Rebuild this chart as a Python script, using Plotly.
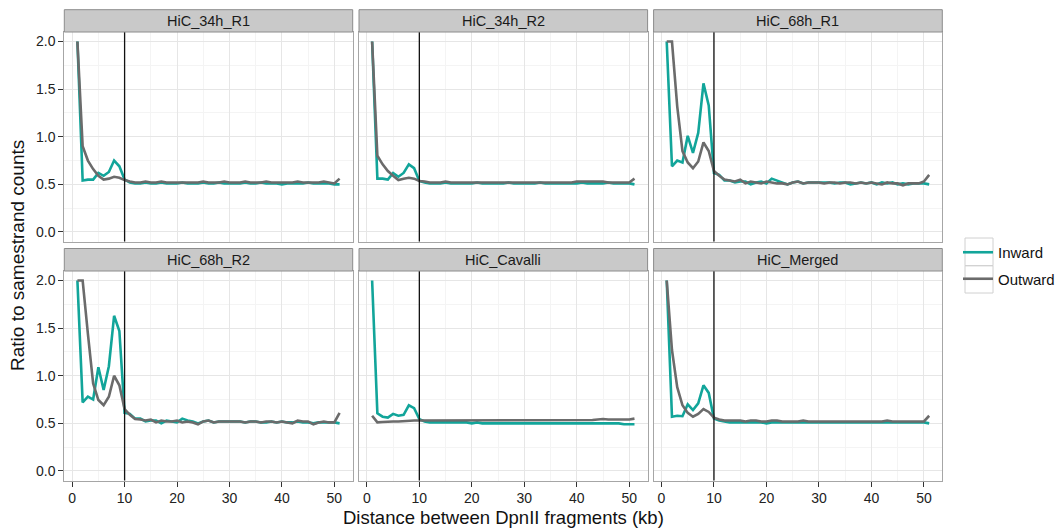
import plotly.graph_objects as go

W, H = 1056, 531

distance_kb = list(range(1, 52))
panels = ["HiC_34h_R1", "HiC_34h_R2", "HiC_68h_R1", "HiC_68h_R2", "HiC_Cavalli", "HiC_Merged"]

inward_34h_R1 = [
    2.00, 0.54, 0.55, 0.55, 0.62, 0.59, 0.63, 0.75, 0.69, 0.55,
    0.52, 0.51, 0.51, 0.52, 0.51, 0.51, 0.52, 0.51, 0.51, 0.51,
    0.52, 0.51, 0.51, 0.51, 0.52, 0.51, 0.51, 0.52, 0.51, 0.51,
    0.51, 0.51, 0.52, 0.51, 0.51, 0.52, 0.51, 0.51, 0.51, 0.50,
    0.51, 0.51, 0.51, 0.51, 0.52, 0.51, 0.51, 0.51, 0.51, 0.50,
    0.50]
outward_34h_R1 = [
    2.00, 0.90, 0.75, 0.66, 0.59, 0.55, 0.56, 0.58, 0.57, 0.545,
    0.53, 0.52, 0.52, 0.53, 0.52, 0.52, 0.53, 0.52, 0.52, 0.52,
    0.52, 0.52, 0.52, 0.52, 0.53, 0.52, 0.52, 0.52, 0.53, 0.52,
    0.52, 0.52, 0.53, 0.52, 0.52, 0.52, 0.53, 0.52, 0.52, 0.52,
    0.52, 0.52, 0.53, 0.52, 0.52, 0.52, 0.52, 0.53, 0.52, 0.51,
    0.56]

inward_34h_R2 = [
    2.00, 0.56, 0.56, 0.55, 0.62, 0.58, 0.62, 0.71, 0.67, 0.535,
    0.52, 0.51, 0.51, 0.51, 0.52, 0.51, 0.51, 0.51, 0.51, 0.51,
    0.52, 0.51, 0.51, 0.51, 0.51, 0.51, 0.52, 0.51, 0.51, 0.51,
    0.51, 0.51, 0.52, 0.51, 0.51, 0.51, 0.51, 0.51, 0.51, 0.51,
    0.52, 0.51, 0.51, 0.51, 0.51, 0.52, 0.51, 0.51, 0.51, 0.51,
    0.50]
outward_34h_R2 = [
    2.00, 0.80, 0.71, 0.64, 0.59, 0.545, 0.56, 0.57, 0.56, 0.535,
    0.53, 0.52, 0.52, 0.52, 0.53, 0.52, 0.52, 0.52, 0.52, 0.52,
    0.52, 0.52, 0.52, 0.52, 0.52, 0.52, 0.52, 0.52, 0.52, 0.52,
    0.52, 0.52, 0.52, 0.52, 0.52, 0.52, 0.52, 0.52, 0.52, 0.53,
    0.53, 0.53, 0.53, 0.53, 0.53, 0.52, 0.52, 0.52, 0.52, 0.52,
    0.56]

inward_68h_R1 = [
    2.00, 0.69, 0.75, 0.73, 1.01, 0.83, 1.04, 1.56, 1.33, 0.62,
    0.60, 0.54, 0.54, 0.52, 0.53, 0.53, 0.50, 0.52, 0.53, 0.51,
    0.56, 0.54, 0.52, 0.50, 0.52, 0.53, 0.51, 0.52, 0.52, 0.52,
    0.52, 0.52, 0.51, 0.52, 0.52, 0.50, 0.51, 0.52, 0.51, 0.52,
    0.50, 0.52, 0.51, 0.52, 0.50, 0.51, 0.50, 0.51, 0.51, 0.51,
    0.50]
outward_68h_R1 = [
    2.00, 2.00, 1.32, 0.85, 0.73, 0.67, 0.74, 0.94, 0.85, 0.64,
    0.59, 0.55, 0.54, 0.53, 0.55, 0.51, 0.53, 0.52, 0.51, 0.53,
    0.52, 0.51, 0.51, 0.50, 0.52, 0.53, 0.51, 0.52, 0.52, 0.52,
    0.51, 0.52, 0.52, 0.51, 0.52, 0.52, 0.51, 0.52, 0.51, 0.52,
    0.51, 0.50, 0.52, 0.51, 0.51, 0.49, 0.51, 0.51, 0.51, 0.53,
    0.60]

inward_68h_R2 = [
    2.00, 0.72, 0.78, 0.75, 1.09, 0.85, 1.10, 1.63, 1.47, 0.61,
    0.60, 0.55, 0.55, 0.52, 0.53, 0.53, 0.50, 0.53, 0.52, 0.51,
    0.55, 0.53, 0.52, 0.50, 0.52, 0.53, 0.51, 0.52, 0.52, 0.52,
    0.52, 0.52, 0.51, 0.52, 0.52, 0.51, 0.51, 0.52, 0.51, 0.52,
    0.51, 0.51, 0.52, 0.51, 0.51, 0.50, 0.51, 0.51, 0.51, 0.51,
    0.50]
outward_68h_R2 = [
    2.00, 2.00, 1.44, 0.92, 0.745, 0.69, 0.78, 1.00, 0.90, 0.65,
    0.59, 0.545, 0.54, 0.53, 0.54, 0.51, 0.53, 0.52, 0.52, 0.53,
    0.51, 0.52, 0.51, 0.49, 0.52, 0.53, 0.51, 0.52, 0.52, 0.52,
    0.52, 0.52, 0.51, 0.52, 0.52, 0.51, 0.52, 0.52, 0.51, 0.52,
    0.51, 0.50, 0.53, 0.52, 0.52, 0.49, 0.51, 0.52, 0.51, 0.51,
    0.61]

inward_Cavalli = [
    2.00, 0.605, 0.57, 0.56, 0.60, 0.58, 0.59, 0.69, 0.66, 0.545,
    0.52, 0.51, 0.51, 0.51, 0.51, 0.51, 0.51, 0.51, 0.51, 0.50,
    0.51, 0.50, 0.50, 0.50, 0.50, 0.50, 0.50, 0.50, 0.50, 0.50,
    0.50, 0.50, 0.50, 0.50, 0.50, 0.50, 0.50, 0.50, 0.50, 0.50,
    0.50, 0.50, 0.50, 0.50, 0.50, 0.50, 0.50, 0.50, 0.49, 0.49,
    0.49]
outward_Cavalli = [
    0.58, 0.51, 0.515, 0.52, 0.52, 0.52, 0.525, 0.53, 0.53, 0.53,
    0.53, 0.53, 0.53, 0.535, 0.53, 0.53, 0.535, 0.53, 0.53, 0.53,
    0.535, 0.53, 0.535, 0.53, 0.53, 0.535, 0.53, 0.53, 0.535, 0.53,
    0.53, 0.53, 0.535, 0.53, 0.535, 0.53, 0.53, 0.535, 0.53, 0.53,
    0.535, 0.53, 0.535, 0.54, 0.545, 0.54, 0.54, 0.54, 0.535, 0.54,
    0.55]

inward_Merged = [
    2.00, 0.57, 0.58, 0.575, 0.70, 0.64, 0.71, 0.90, 0.82, 0.55,
    0.53, 0.52, 0.51, 0.51, 0.51, 0.51, 0.51, 0.51, 0.51, 0.50,
    0.51, 0.51, 0.51, 0.51, 0.51, 0.51, 0.51, 0.51, 0.51, 0.51,
    0.51, 0.51, 0.51, 0.51, 0.51, 0.51, 0.51, 0.51, 0.51, 0.51,
    0.51, 0.51, 0.51, 0.51, 0.51, 0.51, 0.51, 0.51, 0.51, 0.51,
    0.50]
outward_Merged = [
    2.00, 1.27, 0.88, 0.69, 0.61, 0.57, 0.60, 0.65, 0.62, 0.56,
    0.54, 0.53, 0.53, 0.53, 0.53, 0.52, 0.53, 0.53, 0.52, 0.52,
    0.53, 0.53, 0.52, 0.52, 0.52, 0.52, 0.53, 0.52, 0.52, 0.52,
    0.52, 0.52, 0.52, 0.52, 0.52, 0.52, 0.52, 0.52, 0.52, 0.52,
    0.52, 0.52, 0.53, 0.52, 0.52, 0.52, 0.52, 0.52, 0.52, 0.52,
    0.58]

inward = [inward_34h_R1, inward_34h_R2, inward_68h_R1, inward_68h_R2, inward_Cavalli, inward_Merged]
outward = [outward_34h_R1, outward_34h_R2, outward_68h_R1, outward_68h_R2, outward_Cavalli, outward_Merged]

x_ticks = [0, 10, 20, 30, 40, 50]
y_ticks = [0.0, 0.5, 1.0, 1.5, 2.0]
y_tick_labels = ["0.0", "0.5", "1.0", "1.5", "2.0"]
cutoff_kb = 10

TEAL = "#12A59A"
GREY = "#6B6B6B"
FONT = "Liberation Sans, Arial, sans-serif"

# pixel layout
col_px = [(64.3, 352.7), (359.0, 647.6), (653.6, 942.3)]
row_px = [(32.0, 241.5), (271.0, 480.5)]
strip_px = [(9.7, 32.0), (248.5, 271.0)]

def px_x(p):
    return p / W

def px_y(p):
    return 1 - p / H

fig = go.Figure()
layout = dict(
    width=W, height=H,
    margin=dict(l=0, r=0, t=0, b=0, autoexpand=False),
    paper_bgcolor="white", plot_bgcolor="white",
    font=dict(family=FONT, color="#222222"),
    showlegend=True,
)
shapes = []
annotations = []

for i, name in enumerate(panels):
    r, c = divmod(i, 3)
    ax = "" if i == 0 else str(i + 1)
    xa, ya = "x" + ax, "y" + ax
    x0, x1 = col_px[c]
    y0, y1 = row_px[r]
    layout["xaxis" + ax] = dict(
        domain=[px_x(x0), px_x(x1)], anchor=ya, range=[-1.5, 53.5],
        tickvals=x_ticks, showticklabels=(r == 1), ticks="outside" if r == 1 else "",
        ticklen=5, tickcolor="#333333", tickwidth=1,
        tickfont=dict(size=14, color="#222222"),
        showgrid=True, gridcolor="#E6E6E6", gridwidth=1,
        minor=dict(tickvals=[5, 15, 25, 35, 45], showgrid=True, gridcolor="#F4F4F4", gridwidth=1),
        showline=True, linecolor="#A6A6A6", linewidth=1, mirror=True, zeroline=False,
    )
    layout["yaxis" + ax] = dict(
        domain=[px_y(y1), px_y(y0)], anchor=xa, range=[-0.1, 2.1],
        tickvals=y_ticks, ticktext=y_tick_labels,
        showticklabels=(c == 0), ticks="outside" if c == 0 else "",
        ticklen=5, tickcolor="#333333", tickwidth=1,
        tickfont=dict(size=14, color="#222222"),
        showgrid=True, gridcolor="#E6E6E6", gridwidth=1,
        minor=dict(tickvals=[0.25, 0.75, 1.25, 1.75], showgrid=True, gridcolor="#F4F4F4", gridwidth=1),
        showline=True, linecolor="#A6A6A6", linewidth=1, mirror=True, zeroline=False,
    )
    fig.add_trace(go.Scatter(x=distance_kb, y=inward[i], mode="lines", name="Inward",
                             line=dict(color=TEAL, width=2.6), xaxis=xa, yaxis=ya,
                             legendgroup="Inward", showlegend=(i == 0)))
    fig.add_trace(go.Scatter(x=distance_kb, y=outward[i], mode="lines", name="Outward",
                             line=dict(color=GREY, width=2.6), xaxis=xa, yaxis=ya,
                             legendgroup="Outward", showlegend=(i == 0)))
    shapes.append(dict(type="line", xref=xa, yref=ya + " domain", x0=cutoff_kb, x1=cutoff_kb,
                       y0=0, y1=1, line=dict(color="#111111", width=1.3), layer="above"))
    s0, s1 = strip_px[r]
    shapes.append(dict(type="rect", xref="paper", yref="paper",
                       x0=px_x(x0), x1=px_x(x1), y0=px_y(s1), y1=px_y(s0),
                       fillcolor="#C9C9C9", line=dict(color="#8C8C8C", width=1)))
    annotations.append(dict(text=name, xref="paper", yref="paper",
                            x=(px_x(x0) + px_x(x1)) / 2, y=(px_y(s0) + px_y(s1)) / 2,
                            showarrow=False, font=dict(size=14.5, color="#1A1A1A"),
                            xanchor="center", yanchor="middle"))

# axis titles
annotations.append(dict(text="Distance between DpnII fragments (kb)", xref="paper", yref="paper",
                        x=px_x(503), y=px_y(517), showarrow=False,
                        font=dict(size=18.5, color="#111111"), xanchor="center", yanchor="middle"))
annotations.append(dict(text="Ratio to samestrand counts", xref="paper", yref="paper",
                        x=px_x(18), y=px_y(256), showarrow=False, textangle=-90,
                        font=dict(size=19, color="#111111"), xanchor="center", yanchor="middle"))

# legend key boxes
for (k0, k1) in [(238.0, 265.7), (265.7, 293.0)]:
    shapes.append(dict(type="rect", xref="paper", yref="paper",
                       x0=px_x(965), x1=px_x(993), y0=px_y(k1), y1=px_y(k0),
                       fillcolor="rgba(0,0,0,0)", line=dict(color="#D0D0D0", width=1)))

layout["shapes"] = shapes
layout["annotations"] = annotations
layout["legend"] = dict(x=px_x(958), y=px_y(265.5), xanchor="left", yanchor="middle",
                        font=dict(size=15, color="#111111"), bgcolor="rgba(0,0,0,0)",
                        tracegroupgap=4, itemwidth=30)
fig.update_layout(**layout)
fig.write_html("out.html")
